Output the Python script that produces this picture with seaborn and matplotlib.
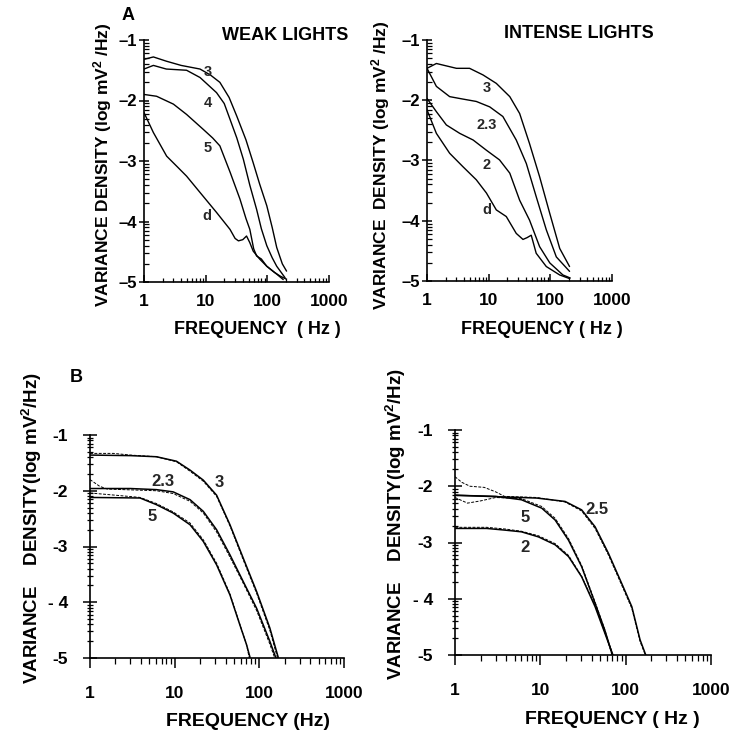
import numpy as np
import pandas as pd
import matplotlib
matplotlib.use("Agg")
import matplotlib.pyplot as plt
import seaborn as sns
from matplotlib.ticker import FixedLocator, LogLocator, NullFormatter, FixedFormatter

sns.set_theme(style="ticks")
plt.rcParams["font.family"] = ["Liberation Sans", "DejaVu Sans"]
plt.rcParams["font.weight"] = "bold"
plt.rcParams["mathtext.default"] = "regular"

# ---------------- Panel A: weak lights ----------------
wk3_f = [1, 1.42, 2.3, 4.0, 8.1, 12, 17, 24, 32, 45, 59, 75, 98, 120, 142, 175, 205]
wk3_v = [-1.32, -1.28, -1.35, -1.42, -1.48, -1.58, -1.70, -1.95, -2.26, -2.65, -3.03, -3.38, -3.74, -4.10, -4.43, -4.70, -4.82]
wk4_f = [1, 1.42, 2.3, 4.9, 8.1, 15, 20, 24.8, 32, 40.8, 52, 67, 80, 98, 120, 142, 194]
wk4_v = [-1.48, -1.42, -1.48, -1.50, -1.62, -1.87, -2.05, -2.31, -2.62, -2.97, -3.40, -3.80, -4.12, -4.40, -4.60, -4.74, -4.93]
wk5_f = [1, 1.6, 3, 4.9, 9.2, 13, 17, 25, 36, 45, 52, 60, 67, 80, 98, 142, 181]
wk5_v = [-1.90, -1.93, -2.06, -2.23, -2.48, -2.62, -2.75, -3.19, -3.63, -3.95, -4.13, -4.45, -4.57, -4.62, -4.74, -4.87, -4.96]
wkd_f = [1, 1.42, 2.33, 3.5, 4.9, 8.1, 15, 24.8, 30, 34, 40, 46, 52, 59, 75, 98, 130, 160, 200]
wkd_v = [-2.20, -2.53, -2.92, -3.10, -3.25, -3.52, -3.85, -4.13, -4.28, -4.32, -4.30, -4.24, -4.35, -4.49, -4.62, -4.74, -4.84, -4.90, -4.95]

# ---------------- Panel A: intense lights ----------------
in3_f = [1, 1.42, 3, 4.9, 8.1, 13.3, 22, 31.8, 46, 67, 98, 142, 205]
in3_v = [-1.47, -1.39, -1.47, -1.47, -1.58, -1.72, -1.94, -2.22, -2.72, -3.27, -3.88, -4.46, -4.76]
in23_f = [1, 1.42, 2.33, 3.8, 6.3, 10.4, 17, 28, 40.8, 59, 86, 125, 205]
in23_v = [-1.47, -1.77, -1.94, -1.98, -2.02, -2.11, -2.27, -2.66, -3.05, -3.60, -4.15, -4.60, -4.84]
in2_f = [1, 1.42, 2.06, 3.4, 5.6, 9.2, 15, 22, 31.8, 46, 67, 98, 160, 210]
in2_v = [-1.97, -2.19, -2.41, -2.55, -2.66, -2.83, -2.99, -3.21, -3.66, -3.99, -4.43, -4.70, -4.90, -4.95]
ind_f = [1, 1.42, 2.33, 3.8, 6.3, 9.2, 13.3, 19.3, 28, 36, 42, 49, 59, 86, 142, 205]
ind_v = [-2.16, -2.55, -2.88, -3.10, -3.32, -3.54, -3.82, -3.93, -4.21, -4.31, -4.28, -4.24, -4.54, -4.76, -4.90, -4.96]

# ---------------- Panel B, left: fitted spectra and measured spectra ----------------
bl3_f = [1, 3.0, 6.1, 10.5, 15.2, 21.8, 31.3, 45, 64.6, 93, 133, 168]
bl3_v = [-1.36, -1.37, -1.39, -1.47, -1.63, -1.81, -2.08, -2.61, -3.21, -3.81, -4.46, -5.0]
bl3m_f = [1, 1.9, 3.0, 6.1, 10.5, 15.2, 21.8, 31.3, 45, 64.6, 93, 133, 164]
bl3m_v = [-1.33, -1.33, -1.36, -1.39, -1.48, -1.65, -1.83, -2.10, -2.63, -3.24, -3.84, -4.50, -5.0]
bl23_f = [1, 3.0, 6.1, 9.6, 15.2, 21.8, 31.3, 45, 64.6, 93, 133, 157]
bl23_v = [-1.96, -1.96, -1.98, -2.02, -2.16, -2.37, -2.70, -3.15, -3.63, -4.11, -4.70, -5.0]
bl23m_f = [1, 1.3, 1.6, 2.5, 6.1, 9.6, 15.2, 21.8, 31.3, 45, 64.6, 93, 133, 152]
bl23m_v = [-1.80, -1.92, -1.97, -1.98, -2.00, -2.05, -2.19, -2.40, -2.74, -3.19, -3.66, -4.15, -4.75, -5.0]
bl5_f = [1, 3.9, 6.1, 9.6, 15.2, 21.8, 31.3, 45, 59, 70.6, 78]
bl5_v = [-2.12, -2.13, -2.25, -2.40, -2.61, -2.91, -3.33, -3.87, -4.41, -4.76, -5.0]
bl5m_f = [1, 2, 3.9, 6.1, 9.6, 15.2, 21.8, 31.3, 45, 59, 70.6, 76]
bl5m_v = [-2.04, -2.08, -2.12, -2.23, -2.38, -2.58, -2.88, -3.30, -3.85, -4.40, -4.76, -5.0]

# ---------------- Panel B, right ----------------
br25_f = [1, 3.7, 9.1, 19.5, 30.5, 43.8, 62.7, 90, 118, 147.5, 172]
br25_v = [-2.16, -2.19, -2.21, -2.27, -2.42, -2.72, -3.19, -3.73, -4.14, -4.73, -5.0]
br25m_f = [1, 1.2, 1.5, 2.2, 3, 3.8, 9.1, 19.5, 30.5, 43.8, 62.7, 90, 118, 147.5, 170]
br25m_v = [-1.83, -1.93, -2.00, -2.02, -2.10, -2.18, -2.20, -2.28, -2.44, -2.75, -3.22, -3.76, -4.17, -4.76, -5.0]
br5_f = [1, 3.0, 6.0, 10.4, 14.9, 21.4, 30.5, 43.8, 57, 70]
br5_v = [-2.16, -2.18, -2.24, -2.39, -2.60, -2.96, -3.43, -4.08, -4.56, -5.0]
br5m_f = [1, 1.4, 2, 3, 6.0, 10.4, 14.9, 21.4, 30.5, 43.8, 57, 69]
br5m_v = [-2.20, -2.30, -2.26, -2.20, -2.22, -2.36, -2.57, -2.93, -3.41, -4.06, -4.55, -5.0]
br2_f = [1, 2.35, 3.86, 6.0, 9.5, 14.9, 21.4, 30.5, 43.8, 57, 68.5, 71]
br2_v = [-2.75, -2.75, -2.78, -2.81, -2.90, -3.04, -3.25, -3.61, -4.14, -4.61, -4.94, -5.0]
br2m_f = [1, 2.35, 3.86, 6.0, 9.5, 14.9, 21.4, 30.5, 43.8, 57, 68.5, 70]
br2m_v = [-2.73, -2.73, -2.76, -2.80, -2.88, -3.02, -3.23, -3.60, -4.12, -4.60, -4.93, -5.0]

freq_ticks = [1, 10, 100, 1000]
freq_labels = ["1", "10", "100", "1000"]
dens_ticks = [-5, -4, -3, -2, -1]
dens_labels_a = ["\u20135", "\u20134", "\u20133", "\u20132", "\u20131"]
dens_labels_b = ["-5", "- 4", "-3", "-2", "-1"]

W = H = 737.0
fig = plt.figure(figsize=(7.37, 7.37), dpi=100)


def px_axes(x0, x1, y0, y1):
    return fig.add_axes([x0 / W, 1 - y1 / H, (x1 - x0) / W, (y1 - y0) / H])


def trace(ax, f, v, lw=1.0, ls="-"):
    sns.lineplot(x=f, y=v, ax=ax, color="black", lw=lw, linestyle=ls,
                 estimator=None, sort=False, legend=False)


def style_axes(ax, labels, kind):
    ax.set_xscale("log")
    ax.set_xlim(1, 1000)
    ax.set_ylim(-5, -1)
    for s in ("top", "right"):
        ax.spines[s].set_visible(False)
    for s in ("left", "bottom"):
        ax.spines[s].set_color("black")
        ax.spines[s].set_linewidth(1.2)
    ax.set_facecolor("white")
    ax.xaxis.set_major_locator(FixedLocator(freq_ticks))
    ax.xaxis.set_major_formatter(FixedFormatter(freq_labels))
    ax.xaxis.set_minor_locator(LogLocator(base=10, subs=np.arange(2, 10)))
    ax.xaxis.set_minor_formatter(NullFormatter())
    ax.yaxis.set_major_locator(FixedLocator(dens_ticks))
    ax.yaxis.set_major_formatter(FixedFormatter(labels))
    minor_y = [n + np.log10(k) for n in range(-5, -1) for k in range(2, 10)]
    ax.yaxis.set_minor_locator(FixedLocator(minor_y))
    ax.set_xlabel("")
    ax.set_ylabel("")
    ax.tick_params(which="both", bottom=True, left=True, top=False, right=False,
                   color="black", labelcolor="black")
    if kind == "A":
        ax.tick_params(axis="x", which="major", direction="in", length=5, width=1.1,
                       pad=9, labelsize=12.5)
        ax.tick_params(axis="x", which="minor", direction="in", length=3, width=0.9)
        ax.tick_params(axis="y", which="major", direction="inout", length=7, width=1.1,
                       pad=1.5, labelsize=12)
        ax.tick_params(axis="y", which="minor", direction="in", length=3.5, width=0.9)
    else:
        ax.tick_params(axis="x", which="major", direction="out", length=7, width=1.1,
                       pad=13, labelsize=12.5)
        ax.tick_params(axis="x", which="minor", direction="out", length=4, width=0.9)
        ax.tick_params(axis="y", which="major", direction="inout", length=10, width=1.1,
                       pad=11, labelsize=12.5)
        ax.tick_params(axis="y", which="minor", direction="inout", length=5, width=0.9)
    for t in ax.get_xticklabels() + ax.get_yticklabels():
        t.set_fontweight("bold")


# ---- A, weak lights ----
axA1 = px_axes(144, 329, 40, 282)
for f, v in [(wk3_f, wk3_v), (wk4_f, wk4_v), (wk5_f, wk5_v), (wkd_f, wkd_v)]:
    trace(axA1, f, v, lw=1.0)
style_axes(axA1, dens_labels_a, "A")
for s, (x, y) in {"3": (10.9, -1.53), "4": (10.9, -2.04), "5": (10.9, -2.79), "d": (10.5, -3.91)}.items():
    axA1.text(x, y, s, ha="center", va="center", fontsize=10.5, fontweight="bold")

# ---- A, intense lights ----
axA2 = px_axes(427, 612, 40, 281)
for f, v in [(in3_f, in3_v), (in23_f, in23_v), (in2_f, in2_v), (ind_f, ind_v)]:
    trace(axA2, f, v, lw=1.0)
style_axes(axA2, dens_labels_a, "A")
for s, (x, y) in {"3": (9.4, -1.80), "2.3": (9.4, -2.41), "2": (9.4, -3.07), "d": (9.4, -3.82)}.items():
    axA2.text(x, y, s, ha="center", va="center", fontsize=10.5, fontweight="bold")

# ---- B, left ----
axB1 = px_axes(90, 344, 435, 658)
for f, v in [(bl3_f, bl3_v), (bl23_f, bl23_v), (bl5_f, bl5_v)]:
    trace(axB1, f, v, lw=1.1)
for f, v in [(bl3m_f, bl3m_v), (bl23m_f, bl23m_v), (bl5m_f, bl5m_v)]:
    trace(axB1, f, v, lw=0.7, ls=(0, (3, 1.5)))
style_axes(axB1, dens_labels_b, "B")
for s, (x, y) in {"2.3": (7.3, -1.84), "3": (34, -1.86), "5": (5.4, -2.47)}.items():
    axB1.text(x, y, s, ha="center", va="center", fontsize=12, fontweight="bold")

# ---- B, right ----
axB2 = px_axes(455, 711, 430, 655)
for f, v in [(br25_f, br25_v), (br5_f, br5_v), (br2_f, br2_v)]:
    trace(axB2, f, v, lw=1.1)
for f, v in [(br25m_f, br25m_v), (br5m_f, br5m_v), (br2m_f, br2m_v)]:
    trace(axB2, f, v, lw=0.7, ls=(0, (3, 1.5)))
style_axes(axB2, dens_labels_b, "B")
for s, (x, y) in {"2.5": (46, -2.42), "5": (6.6, -2.55), "2": (6.6, -3.08)}.items():
    axB2.text(x, y, s, ha="center", va="center", fontsize=12, fontweight="bold")


def ftext(x, y, s, **kw):
    kw.setdefault("fontweight", "bold")
    kw.setdefault("color", "black")
    fig.text(x / W, 1 - y / H, s, **kw)


# axis titles and panel letters
ftext(103, 165, "VARIANCE DENSITY (log mV$^2$ /Hz)", rotation=90, ha="center", va="center", fontsize=12.5)
ftext(381, 165, "VARIANCE  DENSITY (log mV$^2$ /Hz)", rotation=90, ha="center", va="center", fontsize=12.5)
ftext(32, 528, "VARIANCE    DENSITY(log mV$^2$/Hz)", rotation=90, ha="center", va="center", fontsize=13.5)
ftext(396, 524, "VARIANCE    DENSITY(log mV$^2$/Hz)", rotation=90, ha="center", va="center", fontsize=13.5)

ftext(257, 329, "FREQUENCY  ( Hz )", ha="center", va="center", fontsize=13)
ftext(542, 329, "FREQUENCY ( Hz )", ha="center", va="center", fontsize=13)
ftext(248, 722, "FREQUENCY (Hz)", ha="center", va="center", fontsize=14)
ftext(612, 720, "FREQUENCY ( Hz )", ha="center", va="center", fontsize=14)

ftext(285, 35, "WEAK LIGHTS", ha="center", va="center", fontsize=13)
ftext(579, 33, "INTENSE LIGHTS", ha="center", va="center", fontsize=13)
ftext(128, 16, "A", ha="center", va="center", fontsize=13)
ftext(76, 378, "B", ha="center", va="center", fontsize=13)

fig.savefig("out.png", dpi=100, facecolor="white")
